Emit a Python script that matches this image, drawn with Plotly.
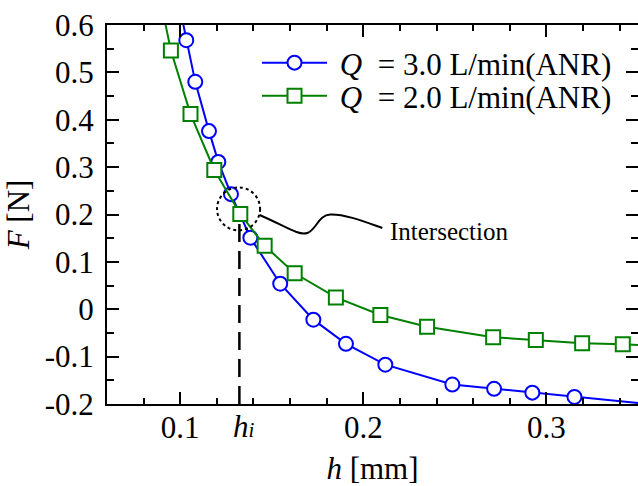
import plotly.graph_objects as go

# ---- data ----
h_q3 = [0.0985, 0.1033, 0.1082, 0.1157, 0.1208, 0.1277, 0.1383, 0.1546, 0.1727,
        0.1905, 0.2120, 0.2486, 0.2714, 0.2923, 0.3153, 0.3600]
F_q3 = [0.660, 0.568, 0.480, 0.376, 0.311, 0.243, 0.151, 0.054, -0.022,
        -0.073, -0.117, -0.159, -0.168, -0.176, -0.185, -0.2015]

h_q2 = [0.0888, 0.0949, 0.1056, 0.1186, 0.1328, 0.1461, 0.1625, 0.1850, 0.2093,
        0.2348, 0.2709, 0.2942, 0.3195, 0.3417, 0.3650]
F_q2 = [0.660, 0.546, 0.412, 0.294, 0.201, 0.134, 0.076, 0.025, -0.012,
        -0.037, -0.059, -0.065, -0.072, -0.074, -0.078]

names = ["\u00a0<i>Q</i>  = 3.0 L/min(ANR)", "\u00a0<i>Q</i>  = 2.0 L/min(ANR)"]

x_tickvals = [0.1, 0.2, 0.3]
x_ticktext = ["0.1", "0.2", "0.3"]
y_tickvals = [0.6, 0.5, 0.4, 0.3, 0.2, 0.1, 0.0, -0.1, -0.2]
y_ticktext = ["0.6", "0.5", "0.4", "0.3", "0.2", "0.1", "0", "-0.1", "-0.2"]

h_i = 0.1323          # intersection gap
F_i_top = 0.19        # top of the dashed marker line
circle_box = (0.1201, 0.1436, 0.1665, 0.2572)   # x0, x1, y0, y1 of dotted circle

FONT = "Liberation Serif"
FS = 31
BLUE = "#0000ff"
GREEN = "#008000"

fig = go.Figure()
fig.add_trace(go.Scatter(
    x=h_q3, y=F_q3, mode="lines+markers", name=names[0], legend="legend",
    line=dict(color=BLUE, width=2),
    marker=dict(symbol="circle", size=14, color="white",
                line=dict(color=BLUE, width=2)),
))
fig.add_trace(go.Scatter(
    x=h_q2, y=F_q2, mode="lines+markers", name=names[1], legend="legend2",
    line=dict(color=GREEN, width=2),
    marker=dict(symbol="square", size=14, color="white",
                line=dict(color=GREEN, width=2)),
))

# dashed line at h_i
fig.add_shape(type="line", xref="x", yref="y", x0=h_i, x1=h_i, y0=-0.2, y1=F_i_top,
              line=dict(color="black", width=2.5, dash="18px,9px"), layer="above")
# dotted circle around the intersection
fig.add_shape(type="circle", xref="x", yref="y",
              x0=circle_box[0], x1=circle_box[1], y0=circle_box[2], y1=circle_box[3],
              line=dict(color="black", width=2, dash="dot"), layer="above")
# wavy leader line to the label
path = ("M 0.14333,0.19894 C 0.15738,0.17573 0.16448,0.15462 0.16940,0.16095 "
        "C 0.17432,0.16728 0.17541,0.19894 0.18197,0.20000 "
        "C 0.19016,0.20106 0.20109,0.18417 0.21038,0.17150")
fig.add_shape(type="path", xref="x", yref="y", path=path,
              line=dict(color="black", width=2), layer="above")

fig.add_annotation(x=0.2132, y=0.1633, xref="x", yref="y", text="Intersection",
                   showarrow=False, xanchor="left", yanchor="middle",
                   font=dict(family=FONT, size=25, color="black"))
fig.add_annotation(x=h_i, y=-0.2, xref="x", yref="y",
                   text="<i>h</i><span style='font-size:21px'><i>i</i></span>",
                   showarrow=False, xanchor="center", yanchor="top", xshift=5, yshift=-3,
                   font=dict(family=FONT, size=FS, color="black"))

axis_common = dict(
    showline=True, linecolor="black", linewidth=2, mirror="ticks",
    ticks="inside", ticklen=12, tickwidth=2, tickcolor="black",
    showgrid=False, zeroline=False, automargin=False,
    tickfont=dict(family=FONT, size=FS, color="black"),
)

fig.update_xaxes(
    range=[0.06, 0.35], tickmode="array", tickvals=x_tickvals, ticktext=x_ticktext,
    minor=dict(ticks="inside", dtick=0.02, tick0=0.0, ticklen=6, tickwidth=2,
               tickcolor="black", showgrid=False),
    title=dict(text="<i>h</i> [mm]", font=dict(family=FONT, size=FS, color="black"),
               standoff=18),
    ticklabelstandoff=-5,
    **axis_common,
)
fig.update_yaxes(
    range=[-0.2, 0.6], tickmode="array", tickvals=y_tickvals, ticktext=y_ticktext,
    minor=dict(ticks="inside", dtick=0.05, tick0=0.0, ticklen=7, tickwidth=2,
               tickcolor="black", showgrid=False),
    title=dict(text="<i>F</i> [N]", font=dict(family=FONT, size=FS, color="black"),
               standoff=6),
    ticklabelstandoff=5,
    **axis_common,
)

legend_common = dict(
    xref="paper", yref="paper", xanchor="left", yanchor="middle",
    bgcolor="rgba(0,0,0,0)", borderwidth=0, itemwidth=65,
    font=dict(family=FONT, size=FS, color="black"),
)
fig.update_layout(
    width=638, height=486,
    margin=dict(l=107, r=0, t=25, b=82, autoexpand=False),
    paper_bgcolor="white", plot_bgcolor="white",
    showlegend=True,
    legend=dict(x=0.2825, y=0.8998, **legend_common),
    legend2=dict(x=0.2825, y=0.8127, **legend_common),
)

fig.write_html("out.html")
